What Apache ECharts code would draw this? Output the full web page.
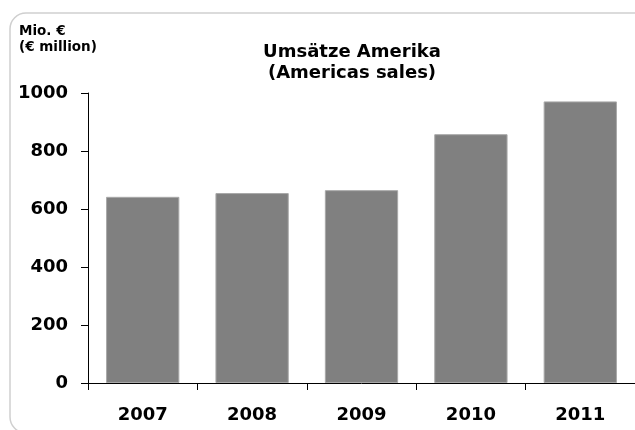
<!DOCTYPE html>
<html>
<head>
<meta charset="utf-8">
<script src="https://cdn.jsdelivr.net/npm/echarts@6/dist/echarts.min.js"></script>
<style>
  html, body { margin: 0; padding: 0; background: #fff; }
  #chart { width: 635px; height: 430px; }
</style>
</head>
<body>
<div id="chart"></div>
<script>
// Americas sales per year, in € million
const years = ['2007', '2008', '2009', '2010', '2011'];
const sales = [642, 655, 665, 858, 971];
const yTicks = { min: 0, max: 1000, interval: 200 };

const FONT = '"DejaVu Sans", Verdana, sans-serif';

const chart = echarts.init(document.getElementById('chart'), null, { renderer: 'canvas' });

chart.setOption({
  backgroundColor: '#ffffff',
  animation: false,
  title: {
    text: 'Umsätze Amerika\n(Americas sales)',
    left: 347,
    top: 37,
    textAlign: 'center',
    textStyle: {
      fontFamily: FONT,
      fontWeight: 'bold',
      fontSize: 18,
      lineHeight: 21,
      color: '#000'
    }
  },
  graphic: [
    {
      type: 'rect',
      shape: { x: 10, y: 13, width: 640, height: 420, r: 16 },
      style: { fill: 'none', stroke: '#cfcfcf', lineWidth: 1.5 },
      z: 0
    },
    {
      type: 'text',
      left: 19,
      top: 23,
      style: {
        text: 'Mio. €\n(€ million)',
        fontFamily: FONT,
        fontWeight: 'bold',
        fontSize: 13.5,
        lineHeight: 16,
        fill: '#000'
      }
    }
  ],
  grid: {
    left: 88,
    right: -5.5,
    top: 93,
    bottom: 47,
    containLabel: false
  },
  xAxis: {
    type: 'category',
    data: years,
    axisLine: { show: true, lineStyle: { color: '#000', width: 1 } },
    axisTick: { show: true, alignWithLabel: false, length: 7, lineStyle: { color: '#000' } },
    axisLabel: {
      margin: 23,
      fontFamily: FONT,
      fontWeight: 'bold',
      fontSize: 18,
      color: '#000'
    },
    splitLine: { show: false }
  },
  yAxis: {
    type: 'value',
    min: yTicks.min,
    max: yTicks.max,
    interval: yTicks.interval,
    axisLine: { show: true, lineStyle: { color: '#000', width: 1 } },
    axisTick: { show: true, length: 7, lineStyle: { color: '#000' } },
    axisLabel: {
      margin: 20,
      formatter: (v) => String(v),
      fontFamily: FONT,
      fontWeight: 'bold',
      fontSize: 18,
      color: '#000'
    },
    splitLine: { show: false }
  },
  series: [
    {
      type: 'bar',
      data: sales,
      barCategoryGap: '33%',
      itemStyle: {
        color: '#808080',
        borderColor: '#a8a8a8',
        borderWidth: 1
      }
    }
  ]
});
</script>
</body>
</html>
